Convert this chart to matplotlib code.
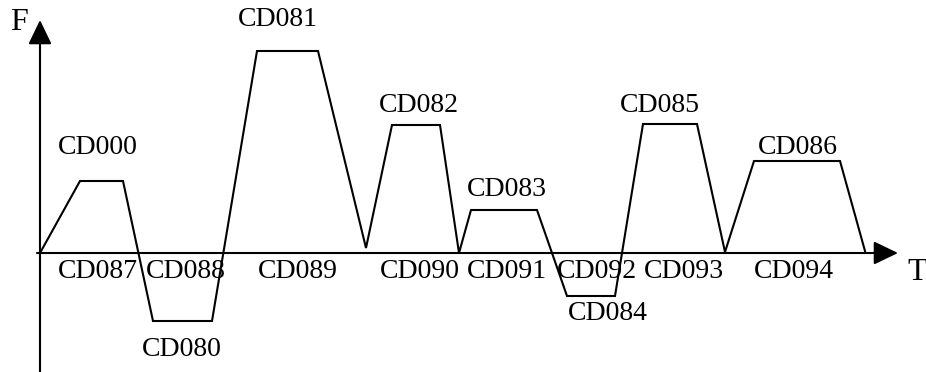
import matplotlib
matplotlib.use("Agg")
import matplotlib.pyplot as plt

# force profile vertices (T in px from left edge, F in px above the T axis)
t_profile = [40, 80, 123, 153, 212, 257, 318, 366, 392, 440, 459, 471, 537, 567, 615, 643, 697, 725, 754, 840, 865]
f_profile = [0, 72, 72, -68, -68, 202, 202, 5, 128, 128, 0, 43, 43, -43, -43, 129, 129, 1, 92, 92, 2]

# labels above/below each plateau
top_labels = ["CD000", "CD081", "CD082", "CD083", "CD085", "CD086"]
top_t = [98, 278, 419, 507, 660, 798]
top_f = [105, 233, 147, 64, 148, 106]

low_labels = ["CD080", "CD084"]
low_t = [182, 608]
low_f = [-97, -60]

axis_labels = ["CD087", "CD088", "CD089", "CD090", "CD091", "CD092", "CD093", "CD094"]
axis_t = [98, 186, 298, 420, 507, 597, 684, 794]
axis_f = -19

W, H = 926, 372
BASE = 253  # pixel row of the T axis

fig = plt.figure(figsize=(W / 100, H / 100), dpi=100)
ax = fig.add_axes([0, 0, 1, 1])
ax.set_xlim(0, W)
ax.set_ylim(BASE - H, BASE)
ax.axis("off")

font = dict(family="Liberation Serif", size=20, color="black")
arrow = dict(arrowstyle="-|>,head_length=0.75,head_width=0.36", mutation_scale=20,
             lw=1.5, color="black", shrinkA=0, shrinkB=0)

# axes with arrows
ax.annotate("", xy=(40, BASE - 20), xytext=(40, BASE - H), arrowprops=arrow)
ax.annotate("", xy=(898, 0), xytext=(37, 0), arrowprops=arrow)
ax.text(19, BASE - 23, "F", ha="center", va="center", family="Liberation Serif", size=23)
ax.text(917, axis_f, "T", ha="center", va="center", family="Liberation Serif", size=23)

ax.plot(t_profile, f_profile, color="black", lw=1.5, solid_joinstyle="miter")

for s, x, y in zip(top_labels, top_t, top_f):
    ax.text(x, y, s, ha="center", va="center", **font)
for s, x, y in zip(low_labels, low_t, low_f):
    ax.text(x, y, s, ha="center", va="center", **font)
for s, x in zip(axis_labels, axis_t):
    ax.text(x, axis_f, s, ha="center", va="center", **font)

fig.savefig("out.png", dpi=100)
